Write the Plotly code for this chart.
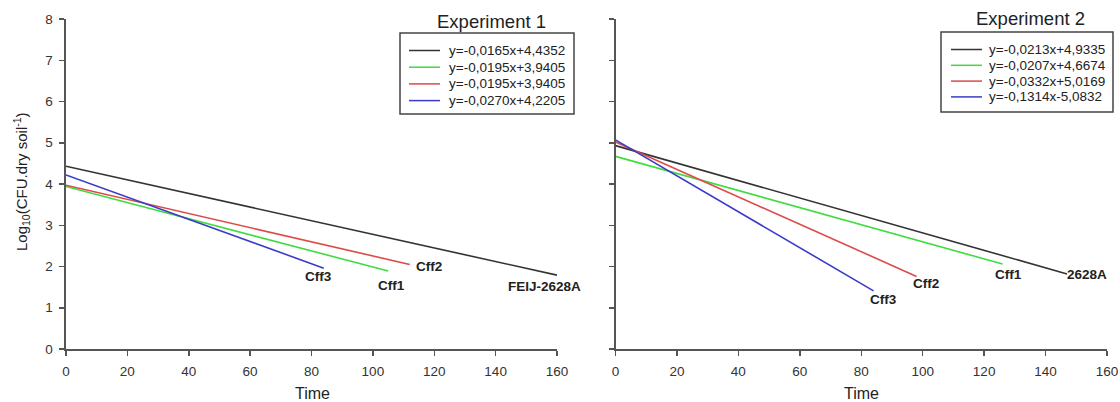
import plotly.graph_objects as go

# ---------------- data ----------------
exp1_names = ["FEIJ-2628A", "Cff1", "Cff2", "Cff3"]
exp1_equations = ["y=-0,0165x+4,4352", "y=-0,0195x+3,9405",
                  "y=-0,0195x+3,9405", "y=-0,0270x+4,2205"]
exp1_t_start = [0, 0, 0, 0]
exp1_t_end = [160, 105, 112, 84]
exp1_log_start = [4.43, 3.94, 3.97, 4.22]
exp1_log_end = [1.79, 1.89, 2.05, 1.96]

exp2_names = ["2628A", "Cff1", "Cff2", "Cff3"]
exp2_equations = ["y=-0,0213x+4,9335", "y=-0,0207x+4,6674",
                  "y=-0,0332x+5,0169", "y=-0,1314x-5,0832"]
exp2_t_start = [0, 0, 0, 0]
exp2_t_end = [147, 126, 98, 84]
exp2_log_start = [4.93, 4.67, 5.02, 5.07]
exp2_log_end = [1.82, 2.06, 1.76, 1.41]

x_ticks = [0, 20, 40, 60, 80, 100, 120, 140, 160]
y_ticks = [0, 1, 2, 3, 4, 5, 6, 7, 8]

# ---------------- styling ----------------
W, H = 1120, 402
FONT = "Liberation Sans, Arial, sans-serif"
TXT = "#222222"
colors = ["#333333", "#3fdc3f", "#dd4a4a", "#3b3bc8"]
AXC = "#555555"

# label offsets (px) relative to the end of each line
exp1_label_shift = [(-13, -11), (3, -14), (19, -2), (-5, -8)]
exp2_label_shift = [(20, -1), (6, -10), (9, -7), (10, -9)]

# hand-drawn legend boxes (pixel geometry)
legend_geom = [
    dict(l=400, t=33, r=574, b=114, row0=50.5, step=16.7, s0=409, s1=440, tx=447),
    dict(l=941, t=32, r=1113, b=112, row0=49.5, step=15.8, s0=951, s1=982, tx=987),
]


def px_x(p):
    return p / W


def px_y(p):
    return 1 - p / H


fig = go.Figure()

panels = [
    (exp1_names, exp1_equations, exp1_t_start, exp1_t_end, exp1_log_start, exp1_log_end,
     "x", "y", exp1_label_shift),
    (exp2_names, exp2_equations, exp2_t_start, exp2_t_end, exp2_log_start, exp2_log_end,
     "x2", "y2", exp2_label_shift),
]

annotations = []
shapes = []
for p, (names, eqs, ts, te, ls, le, xa, ya, shifts) in enumerate(panels):
    g = legend_geom[p]
    shapes.append(dict(type="rect", xref="paper", yref="paper",
                       x0=px_x(g["l"]), x1=px_x(g["r"]), y0=px_y(g["b"]), y1=px_y(g["t"]),
                       line=dict(color="#444444", width=1.5), fillcolor="white", layer="above"))
    for i in range(len(names)):
        fig.add_trace(go.Scatter(
            x=[ts[i], te[i]], y=[ls[i], le[i]], mode="lines",
            line=dict(color=colors[i], width=1.6),
            name=eqs[i], xaxis=xa, yaxis=ya, showlegend=False,
            hoverinfo="skip"))
        annotations.append(dict(
            x=te[i], y=le[i], xref=xa, yref=ya, text="<b>%s</b>" % names[i],
            showarrow=False, xshift=shifts[i][0], yshift=shifts[i][1],
            xanchor="center", yanchor="middle",
            font=dict(family=FONT, size=13.5, color=TXT)))
        ry = g["row0"] + i * g["step"]
        shapes.append(dict(type="line", xref="paper", yref="paper",
                           x0=px_x(g["s0"]), x1=px_x(g["s1"]), y0=px_y(ry), y1=px_y(ry),
                           line=dict(color=colors[i], width=1.5), layer="above"))
        annotations.append(dict(
            x=px_x(g["tx"]), y=px_y(ry), xref="paper", yref="paper", text=eqs[i],
            showarrow=False, xanchor="left", yanchor="middle",
            font=dict(family=FONT, size=13.5, color=TXT)))

left_dom = [px_x(66), px_x(557)]
right_dom = [px_x(615.5), px_x(1107)]
y_dom = [px_y(349), px_y(19)]

axis_common = dict(showline=True, linecolor=AXC, linewidth=1.6, ticks="outside",
                   ticklen=5, tickwidth=1.5, tickcolor=AXC, showgrid=False,
                   zeroline=False, automargin=False,
                   tickfont=dict(family=FONT, size=13.5, color="#333333"))

fig.update_layout(
    width=W, height=H, margin=dict(l=0, r=0, t=0, b=0, autoexpand=False),
    paper_bgcolor="white", plot_bgcolor="white",
    font=dict(family=FONT),
    showlegend=False,
    xaxis=dict(domain=left_dom, range=[0, 160], tickvals=x_ticks, anchor="y",
               ticklabelstandoff=4, **axis_common),
    yaxis=dict(domain=y_dom, range=[0, 8], tickvals=y_ticks, anchor="x",
               ticklabelstandoff=4, **axis_common),
    xaxis2=dict(domain=right_dom, range=[0, 160], tickvals=x_ticks, anchor="y2",
                ticklabelstandoff=4, **axis_common),
    yaxis2=dict(domain=y_dom, range=[0, 8], tickvals=y_ticks, anchor="x2",
                showticklabels=False, **axis_common),
)

annotations += [
    dict(x=px_x(491), y=px_y(22), text="Experiment 1", font=dict(family=FONT, size=18.5, color=TXT)),
    dict(x=px_x(1030), y=px_y(18), text="Experiment 2", font=dict(family=FONT, size=18.5, color=TXT)),
    dict(x=px_x(312), y=px_y(393), text="Time", font=dict(family=FONT, size=16, color=TXT)),
    dict(x=px_x(861), y=px_y(393), text="Time", font=dict(family=FONT, size=16, color=TXT)),
    dict(x=px_x(21), y=px_y(182), text="Log<sub>10</sub>(CFU.dry soil<sup>-1</sup>)",
         textangle=-90, font=dict(family=FONT, size=15, color=TXT)),
]
for a in annotations[-5:]:
    a.update(xref="paper", yref="paper", showarrow=False, xanchor="center", yanchor="middle")

fig.update_layout(annotations=annotations, shapes=shapes)

fig.write_html("out.html", config={"displayModeBar": False, "staticPlot": True},
               post_script="document.body.style.margin='0';document.body.style.overflow='hidden';")
